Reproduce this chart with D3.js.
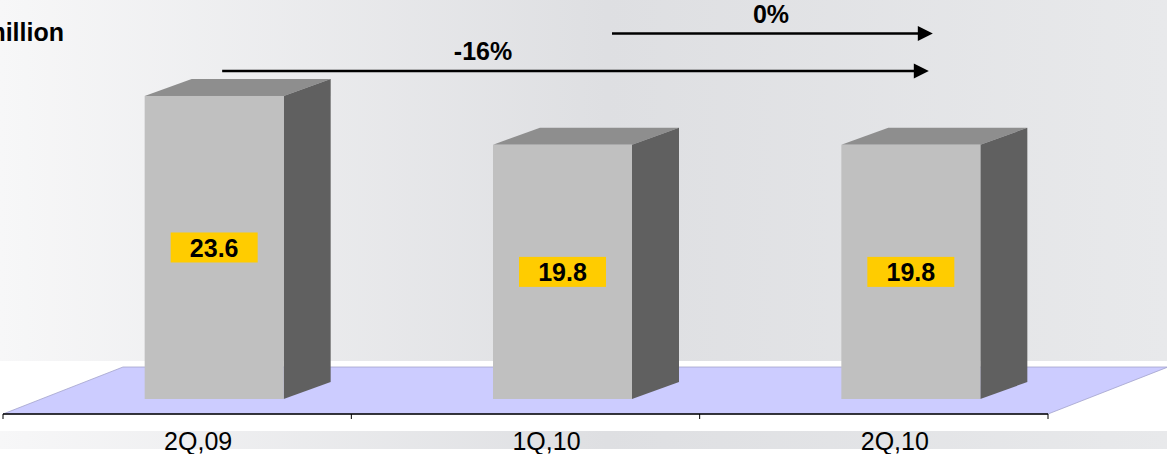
<!DOCTYPE html>
<html>
<head>
<meta charset="utf-8">
<script src="https://cdn.jsdelivr.net/npm/d3@7"></script>
<style>
  html, body { margin: 0; padding: 0; background: #ffffff; }
  svg { display: block; font-family: "Liberation Sans", Arial, sans-serif; }
</style>
</head>
<body>
<div id="chart"></div>
<script>
// Quarterly values (million)
const categories = ["2Q,09", "1Q,10", "2Q,10"];
const values = [23.6, 19.8, 19.8];
const valueLabels = ["23.6", "19.8", "19.8"];
const unitLabel = "million";

// Period-over-period changes shown as arrows above the bars
const changeFrom = [0, 1];
const changeTo = [2, 2];
const changeLabels = ["-16%", "0%"];

const W = 1167, H = 454;
const svg = d3.select("#chart").append("svg")
  .attr("width", W).attr("height", H);

// Background gradient
const defs = svg.append("defs");
const grad = defs.append("linearGradient").attr("id", "bg")
  .attr("x1", "0%").attr("x2", "100%").attr("y1", "0%").attr("y2", "0%");
grad.append("stop").attr("offset", "0%").attr("stop-color", "#f7f7f8");
grad.append("stop").attr("offset", "52%").attr("stop-color", "#dedfe2");
grad.append("stop").attr("offset", "100%").attr("stop-color", "#e8e9eb");

svg.append("rect").attr("x", 0).attr("y", 0).attr("width", W).attr("height", 361)
  .attr("fill", "url(#bg)");
svg.append("rect").attr("x", 0).attr("y", 431).attr("width", W).attr("height", 18)
  .attr("fill", "url(#bg)");

// Scales
const x = d3.scaleBand().domain(categories).range([3, 1048]).padding(0);
const y = d3.scaleLinear().domain([0, 30]).range([399, 399 - 30 * 12.84]);
const bw = x.bandwidth();

// 3D geometry
const floorFrontY = 414, floorDx = 120, floorDy = -47;
const barW = 139, barDx = 47, barDy = -17, barShift = 37;
const barCenter = i => x(categories[i]) + bw / 2 + barShift;

// Floor
const fx0 = x.range()[0], fx1 = x.range()[1];
svg.append("polygon")
  .attr("points", [
    [fx0, floorFrontY], [fx1, floorFrontY],
    [fx1 + floorDx, floorFrontY + floorDy], [fx0 + floorDx, floorFrontY + floorDy]
  ].map(p => p.join(",")).join(" "))
  .attr("fill", "#ccccff")
  .attr("stroke", "#a3a3cc").attr("stroke-width", 0.8);

// Category axis
const axisG = svg.append("g").attr("transform", `translate(0,${floorFrontY})`);
axisG.append("line").attr("x1", fx0).attr("x2", fx1).attr("y1", 0).attr("y2", 0)
  .attr("stroke", "#000").attr("stroke-width", 1.5);
const tickXs = categories.map(c => x(c)).concat([fx1]);
axisG.selectAll("line.tick").data(tickXs).join("line").attr("class", "tick")
  .attr("x1", d => d).attr("x2", d => d).attr("y1", 0).attr("y2", 5)
  .attr("stroke", "#000").attr("stroke-width", 1);

svg.selectAll("text.cat").data(categories).join("text").attr("class", "cat")
  .attr("x", d => x(d) + bw / 2 + 21).attr("y", 450)
  .attr("text-anchor", "middle").attr("font-size", 25).attr("fill", "#000")
  .text(d => d);

// Bars
const bars = svg.selectAll("g.bar").data(values).join("g").attr("class", "bar");
bars.each(function (v, i) {
  const g = d3.select(this);
  const cx = barCenter(i);
  const l = cx - barW / 2, r = cx + barW / 2;
  const top = y(v), bot = y(0);
  // top face
  g.append("polygon")
    .attr("points", [[l, top], [r, top], [r + barDx, top + barDy], [l + barDx, top + barDy]]
      .map(p => p.join(",")).join(" "))
    .attr("fill", "#8e8e8e");
  // side face
  g.append("polygon")
    .attr("points", [[r, top], [r + barDx, top + barDy], [r + barDx, bot + barDy], [r, bot]]
      .map(p => p.join(",")).join(" "))
    .attr("fill", "#606060");
  // front face
  g.append("rect").attr("x", l).attr("y", top).attr("width", barW).attr("height", bot - top)
    .attr("fill", "#c0c0c0");
  // value label
  const my = (top + bot) / 2;
  g.append("rect").attr("x", cx - 43.5).attr("y", my - 15).attr("width", 87).attr("height", 30)
    .attr("fill", "#ffcc00");
  g.append("text").attr("x", cx).attr("y", my + 9.5)
    .attr("text-anchor", "middle").attr("font-size", 25).attr("font-weight", "bold")
    .attr("fill", "#000").text(valueLabels[i]);
});

// Change arrows
const arrowLayout = [
  { y: 71, startOff: 8, endOff: 18, labelX: 483, labelY: 60 },
  { y: 33.5, startOff: 49.5, endOff: 22, labelX: 771, labelY: 22.5 }
];
changeLabels.forEach((lab, k) => {
  const a = arrowLayout[k];
  const x0 = barCenter(changeFrom[k]) + a.startOff;
  const tip = barCenter(changeTo[k]) + a.endOff;
  svg.append("line").attr("x1", x0).attr("x2", tip - 12).attr("y1", a.y).attr("y2", a.y)
    .attr("stroke", "#000").attr("stroke-width", 2.6);
  svg.append("polygon")
    .attr("points", [[tip, a.y], [tip - 15, a.y - 7.5], [tip - 15, a.y + 7.5]]
      .map(p => p.join(",")).join(" "))
    .attr("fill", "#000");
  svg.append("text").attr("x", a.labelX).attr("y", a.labelY)
    .attr("text-anchor", "middle").attr("font-size", 25).attr("font-weight", "bold")
    .attr("fill", "#000").text(lab);
});

// Unit label
svg.append("text").attr("x", 64).attr("y", 41)
  .attr("text-anchor", "end").attr("font-size", 25).attr("font-weight", "bold")
  .attr("fill", "#000").text(unitLabel);
</script>
</body>
</html>
